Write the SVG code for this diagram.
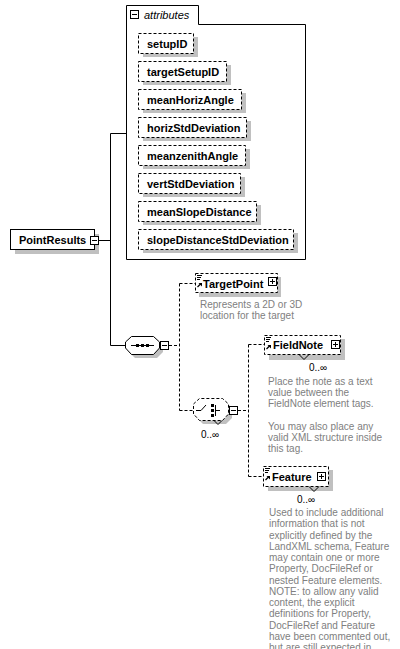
<svg xmlns="http://www.w3.org/2000/svg" width="400" height="649" viewBox="0 0 400 649">
<defs>
<style>
.lbl{font-family:"Liberation Sans",Arial,sans-serif;font-size:11px;font-weight:bold;fill:#000}
.ital{font-family:"Liberation Sans",Arial,sans-serif;font-size:11px;font-style:italic;fill:#000}
.desc{font-family:"Liberation Sans",Arial,sans-serif;font-size:10px;fill:#808080}
.card{font-family:"Liberation Sans",Arial,sans-serif;font-size:10px;fill:#000}
.box{fill:#fff;stroke:#000;stroke-width:1}
.dbox{fill:#fff;stroke:#000;stroke-width:1;stroke-dasharray:3,2}
.sh{fill:#c0c0c0;stroke:none}
.ln{fill:none;stroke:#000;stroke-width:1}
.dl{fill:none;stroke:#000;stroke-width:1;stroke-dasharray:3,2}
.icon{fill:#fff;stroke:#000;stroke-width:1}
</style>
<g id="minus"><rect class="icon" x="0.5" y="0.5" width="8" height="8"/><path class="ln" d="M2,4.5 H7"/></g>
<g id="plus"><rect class="icon" x="0.5" y="0.5" width="8" height="8"/><path class="ln" d="M2,4.5 H7 M4.5,2 V7"/></g>
<g id="typeref"><path class="ln" d="M0,0.5 H5 M0,2.5 H4 M0,4.5 H3"/><path d="M0.5,12 L4,8.5" stroke="#000" stroke-width="1.2"/><path d="M1.5,8 H5 V11.5 Z" fill="#000"/></g>
</defs>
<rect x="0" y="0" width="400" height="649" fill="#fff"/>

<g id="connectors">
<path class="ln" d="M98,240.5 H110.5 M110.5,133.5 V345.5 M110.5,133.5 H126 M110.5,345.5 H125"/>
<path class="dl" d="M169,345.5 H179.5 M179.5,283.5 V410.5 M179.5,283.5 H195 M179.5,410.5 H193 M238,410.5 H248.5 M248.5,344.5 V476.5 M248.5,344.5 H264 M248.5,476.5 H263"/>
</g>

<g id="attributes">
<path class="box" d="M126.5,5.5 H198.5 V24.5 H305.5 V259.5 H126.5 Z"/>
<use href="#minus" x="130" y="10"/>
<text class="ital" x="144" y="19">attributes</text>
</g>

<g id="attr-setupID"><rect class="sh" x="143" y="37" width="55" height="20"/><rect class="dbox" x="138.5" y="33.5" width="55" height="20"/><text class="lbl" x="147" y="47.5">setupID</text></g>
<g id="attr-targetSetupID"><rect class="sh" x="143" y="65" width="88" height="20"/><rect class="dbox" x="138.5" y="61.5" width="88" height="20"/><text class="lbl" x="147" y="75.5">targetSetupID</text></g>
<g id="attr-meanHorizAngle"><rect class="sh" x="143" y="93" width="103" height="20"/><rect class="dbox" x="138.5" y="89.5" width="103" height="20"/><text class="lbl" x="147" y="103.5">meanHorizAngle</text></g>
<g id="attr-horizStdDeviation"><rect class="sh" x="143" y="121" width="108" height="20"/><rect class="dbox" x="138.5" y="117.5" width="108" height="20"/><text class="lbl" x="147" y="131.5">horizStdDeviation</text></g>
<g id="attr-meanzenithAngle"><rect class="sh" x="143" y="149" width="107" height="20"/><rect class="dbox" x="138.5" y="145.5" width="107" height="20"/><text class="lbl" x="147" y="159.5">meanzenithAngle</text></g>
<g id="attr-vertStdDeviation"><rect class="sh" x="143" y="177" width="102" height="20"/><rect class="dbox" x="138.5" y="173.5" width="102" height="20"/><text class="lbl" x="147" y="187.5">vertStdDeviation</text></g>
<g id="attr-meanSlopeDistance"><rect class="sh" x="143" y="205" width="118" height="20"/><rect class="dbox" x="138.5" y="201.5" width="118" height="20"/><text class="lbl" x="147" y="215.5">meanSlopeDistance</text></g>
<g id="attr-slopeDistanceStdDeviation"><rect class="sh" x="143" y="233" width="155" height="20"/><rect class="dbox" x="138.5" y="229.5" width="155" height="20"/><text class="lbl" x="147" y="243.5">slopeDistanceStdDeviation</text></g>

<g id="PointResults">
<rect class="sh" x="15" y="234" width="84" height="20"/>
<rect class="box" x="10.5" y="229.5" width="84" height="20"/>
<text class="lbl" x="19" y="243.5">PointResults</text>
<use href="#minus" x="90" y="236"/>
</g>

<g id="sequence">
<polygon class="sh" points="129,346 135,340 157,340 163,346 163,352 157,358 135,358 129,352"/>
<polygon class="box" points="125.5,342 131.5,336.5 153.5,336.5 159.5,342 159.5,348 153.5,354.5 131.5,354.5 125.5,348"/>
<path class="ln" d="M131,345.5 H154"/>
<rect x="136" y="344" width="3" height="3" fill="#000"/>
<rect x="141" y="344" width="3" height="3" fill="#000"/>
<rect x="146" y="344" width="3" height="3" fill="#000"/>
<use href="#minus" x="160" y="341"/>
</g>

<g id="TargetPoint">
<rect class="sh" x="199" y="277" width="82" height="20"/>
<rect class="dbox" x="195.5" y="273.5" width="82" height="19"/>
<use href="#typeref" x="197" y="275"/>
<text class="lbl" x="203" y="287.5">TargetPoint</text>
<use href="#plus" x="268" y="277"/>
<text class="desc" x="200" y="307.5">Represents a 2D or 3D</text>
<text class="desc" x="200" y="319">location for the target</text>
</g>

<g id="choice">
<polygon class="sh" points="197,408 203,402 226,402 232,408 232,418 226,424 203,424 197,418"/>
<polygon class="dbox" points="193.5,404 199.5,398.5 222.5,398.5 228.5,404 228.5,414 222.5,420.5 199.5,420.5 193.5,414"/>
<path class="ln" d="M196,410.5 H201 L206,405 M215.5,405 V416 M215.5,410.5 H220"/>
<rect x="211" y="404" width="3" height="3" fill="#000"/>
<rect x="211" y="409" width="3" height="3" fill="#000"/>
<rect x="211" y="414" width="3" height="3" fill="#000"/>
<path class="ln" d="M214,420.5 L218,424.5 L222,420.5"/>
<use href="#minus" x="229" y="406"/>
<text class="card" x="201" y="437.5">0..∞</text>
</g>

<g id="FieldNote">
<rect class="sh" x="269" y="339" width="76" height="21"/>
<rect class="dbox" x="264.5" y="335.5" width="76" height="19"/>
<use href="#typeref" x="266" y="337"/>
<text class="lbl" x="273" y="348.5">FieldNote</text>
<use href="#plus" x="331" y="340"/>
<path class="ln" d="M299,354.5 L304,359.5 L309,354.5"/>
<text class="card" x="309" y="370.5">0..∞</text>
<text class="desc" x="268" y="385">Place the note as a text</text>
<text class="desc" x="268" y="396.2">value between the</text>
<text class="desc" x="268" y="407.4">FieldNote element tags.</text>
<text class="desc" x="268" y="429.6">You may also place any</text>
<text class="desc" x="268" y="440.8">valid XML structure inside</text>
<text class="desc" x="268" y="452">this tag.</text>
</g>

<g id="Feature">
<rect class="sh" x="268" y="470" width="65" height="21"/>
<rect class="dbox" x="263.5" y="466.5" width="65" height="20"/>
<use href="#typeref" x="265" y="468"/>
<text class="lbl" x="272" y="480.5">Feature</text>
<use href="#plus" x="317" y="472"/>
<path class="ln" d="M309,486.5 L314,491.5 L319,486.5"/>
<text class="card" x="297" y="502.5">0..∞</text>
<text class="desc" x="269" y="516">Used to include additional</text>
<text class="desc" x="269" y="527.25">information that is not</text>
<text class="desc" x="269" y="538.5">explicitly defined by the</text>
<text class="desc" x="269" y="549.75">LandXML schema, Feature</text>
<text class="desc" x="269" y="561">may contain one or more</text>
<text class="desc" x="269" y="572.25">Property, DocFileRef or</text>
<text class="desc" x="269" y="583.5">nested Feature elements.</text>
<text class="desc" x="269" y="594.75">NOTE: to allow any valid</text>
<text class="desc" x="269" y="606">content, the explicit</text>
<text class="desc" x="269" y="617.25">definitions for Property,</text>
<text class="desc" x="269" y="628.5">DocFileRef and Feature</text>
<text class="desc" x="269" y="639.75">have been commented out,</text>
<text class="desc" x="269" y="651">but are still expected in</text>
</g>
</svg>
